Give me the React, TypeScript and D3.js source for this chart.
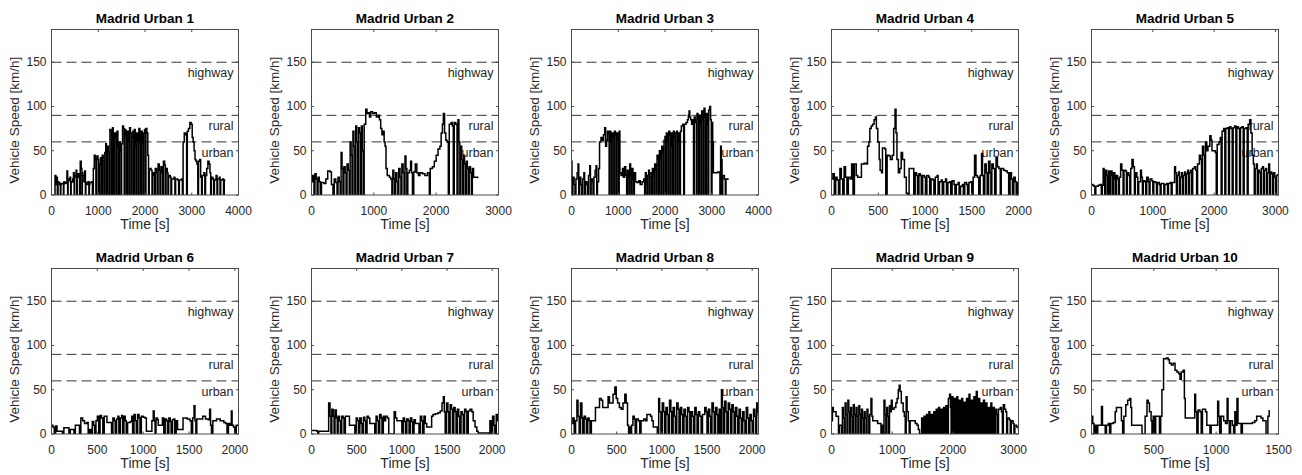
import React from 'react';
import * as d3 from 'd3';

type Pt = [number, number];

// ---------- data ----------
const titles = [
  'Madrid Urban 1', 'Madrid Urban 2', 'Madrid Urban 3', 'Madrid Urban 4', 'Madrid Urban 5',
  'Madrid Urban 6', 'Madrid Urban 7', 'Madrid Urban 8', 'Madrid Urban 9', 'Madrid Urban 10',
];
const xMaxes = [4000, 3000, 4000, 2000, 3050, 2040, 2070, 2070, 3080, 1500];
const xTicksK = [0, 1000, 2000, 3000, 4000];
const xTicks3K = [0, 1000, 2000, 3000];
const xTicks2K = [0, 500, 1000, 1500, 2000];
const xTicks15 = [0, 500, 1000, 1500];
const xTickSets = [xTicksK, xTicks3K, xTicksK, xTicks2K, xTicks3K, xTicks2K, xTicks2K, xTicks2K, xTicks3K, xTicks15];
const yTicks = [0, 50, 100, 150];
const yMax = 187;
const thresholds = [150, 90, 60];
const zoneLabels = ['highway', 'rural', 'urban'];

const madrid1: Pt[] = [
  [60,0],[75,22],[95,12],[110,20],[125,0],[140,15],[150,14],[175,12],[190,0],[200,12],[210,13],[240,13],[255,0],[265,15],[280,13],[310,14],[330,27],[345,0],[355,18],[370,16],[395,20],[410,0],[420,14],[430,15],[455,18],[470,25],[485,0],[495,20],[505,22],[525,28],[540,0],[550,20],[560,24],[585,20],[600,0],[615,38],[635,30],[650,0],[660,25],[670,22],[695,15],[710,27],[725,0],[735,14],[745,12],[780,15],[800,0],[810,12],[820,14],[860,15],[875,0],
  [895,30],[915,45],[935,40],[950,0],[970,44],[995,40],[1010,0],[1030,35],[1050,42],[1065,0],[1085,45],[1105,38],[1120,0],[1140,48],[1160,58],[1175,0],[1195,55],[1215,48],[1230,0],
  [1250,74],[1270,72],[1285,0],[1305,76],[1320,60],[1335,0],[1350,70],[1370,65],[1385,0],[1400,72],[1420,55],[1435,0],[1450,60],[1470,50],[1485,0],[1500,58],[1520,78],[1540,75],[1555,0],[1570,74],[1590,68],[1605,0],[1620,72],[1640,60],[1655,0],[1670,76],[1690,70],[1705,0],[1720,65],[1740,72],[1755,0],[1770,74],[1790,55],[1805,0],[1820,70],[1840,62],[1855,0],[1870,75],[1890,60],[1905,0],[1920,72],[1940,58],[1955,0],[1970,70],[1990,74],[2005,0],[2020,75],[2040,70],[2060,45],[2075,0],
  [2090,30],[2130,28],[2150,0],[2165,25],[2190,22],[2205,0],[2220,30],[2245,25],[2260,0],[2280,35],[2305,28],[2320,0],[2340,32],[2365,25],[2380,0],[2395,38],[2420,34],[2435,0],[2450,30],[2475,25],[2490,0],[2505,22],[2540,20],[2555,0],[2570,18],[2620,20],[2640,0],[2655,18],[2700,17],[2720,0],[2735,17],[2780,18],
  [2800,0],[2815,60],[2840,70],[2870,68],[2890,0],[2905,72],[2930,75],[2960,82],[2985,80],[3010,65],[3030,60],[3050,50],[3070,40],[3090,38],[3110,35],[3130,0],
  [3145,38],[3170,40],[3190,20],[3210,0],[3225,22],[3260,25],[3280,0],[3295,22],[3320,30],[3345,38],[3370,35],[3390,25],[3405,0],[3420,20],[3450,18],[3470,0],[3485,17],[3520,22],[3540,0],[3555,18],[3590,20],[3605,0],[3620,17],[3660,18],[3680,0],[3695,17],[3720,17],
];

const madrid2: Pt[] = [
  [0,15],[20,22],[40,0],[55,24],[75,18],[90,0],[105,20],[125,15],[140,0],[160,14],[200,13],[230,18],[260,27],[300,26],[320,12],[345,0],[365,18],[390,14],[410,0],[425,20],[445,15],[460,0],[475,48],[490,30],[505,0],[520,32],[540,25],[555,0],[570,35],[590,28],[605,0],[620,60],[635,45],[650,0],[665,72],[680,55],[695,0],[710,78],[725,60],[740,0],[755,76],[770,70],[785,0],[800,78],[815,50],[830,0],
  [845,80],[870,97],[890,92],[910,93],[930,88],[950,94],[980,92],[1010,93],[1040,88],[1070,90],[1090,85],[1110,75],[1130,68],[1150,72],[1165,60],[1180,55],[1195,30],[1215,22],[1250,20],[1270,18],[1290,0],[1305,28],[1320,18],[1335,0],[1350,25],[1370,15],[1385,0],[1400,30],[1420,20],[1435,0],[1450,35],[1470,25],[1485,0],[1500,44],[1515,30],[1530,0],[1545,25],[1570,28],[1590,38],[1605,25],[1620,0],[1640,26],[1665,35],[1690,25],[1715,22],[1740,25],[1780,24],[1820,22],[1860,25],[1890,0],
  [1905,30],[1940,32],[1970,38],[2000,45],[2030,52],[2060,55],[2080,70],[2100,80],[2115,92],[2135,70],[2155,62],[2175,60],[2195,0],[2210,80],[2240,82],[2260,78],[2275,0],[2290,82],[2315,80],[2335,0],[2350,85],[2365,60],[2380,0],[2395,55],[2410,40],[2425,0],[2440,45],[2455,35],[2470,0],[2485,38],[2500,30],[2515,0],[2530,32],[2550,25],[2565,0],[2580,30],[2600,20],[2640,20],[2665,19],
];

const madrid3: Pt[] = [
  [0,38],[10,0],[30,20],[55,12],[75,0],[95,18],[120,25],[140,35],[155,0],[175,20],[200,12],[220,0],[240,18],[265,25],[280,0],[300,15],[330,12],[345,0],[365,22],[390,33],[405,0],[420,18],[445,15],[460,0],[480,20],[505,28],[525,33],[540,0],[555,15],[580,30],
  [600,60],[630,65],[660,62],[685,68],[710,76],[730,55],[750,62],[770,72],[790,70],[805,0],[820,72],[840,60],[855,0],[870,70],[890,65],[905,0],[920,72],[940,68],[955,0],[970,70],[990,62],[1005,0],[1020,72],
  [1035,25],[1060,22],[1090,30],[1110,20],[1135,32],[1160,22],[1180,0],[1195,28],[1215,20],[1230,0],[1245,35],[1265,22],[1280,0],[1295,30],[1315,18],[1330,0],[1345,25],[1370,15],[1400,14],[1440,16],[1470,12],[1510,15],[1545,18],[1565,0],[1580,25],[1600,15],[1615,0],[1630,22],[1650,28],[1665,0],[1680,20],[1700,25],[1715,0],[1730,30],[1750,22],[1765,0],
  [1780,35],[1800,28],[1815,0],[1830,45],[1850,40],[1865,0],[1880,50],[1900,42],[1915,0],[1930,55],[1950,48],[1965,0],[1980,62],[2000,66],[2015,0],[2030,70],[2050,60],[2065,0],[2080,72],[2100,68],[2115,0],[2130,70],[2150,55],[2165,0],[2180,72],[2200,65],[2215,0],[2230,70],[2250,72],[2265,0],[2280,70],[2300,60],[2315,0],[2330,72],[2350,78],[2380,80],[2400,0],
  [2415,80],[2450,82],[2480,85],[2500,90],[2515,95],[2530,88],[2550,85],[2570,80],[2590,85],[2610,0],[2625,88],[2650,82],[2670,0],[2685,92],[2705,85],[2720,0],[2735,90],[2755,80],[2770,0],[2785,95],[2805,85],[2820,0],[2835,98],[2855,88],[2870,0],[2885,92],[2905,80],[2920,0],[2935,96],[2955,100],[2975,85],[2990,0],[3005,82],[3020,60],
  [3035,25],[3080,25],[3120,26],[3160,25],[3175,0],[3190,55],[3205,40],[3220,0],[3235,22],[3270,18],[3290,0],[3305,18],[3345,17],
];

const madrid4: Pt[] = [
  [0,18],[15,24],[30,0],[45,20],[60,17],[75,0],[90,30],[105,18],[120,0],[135,32],[150,20],[165,0],[180,20],[200,18],[215,35],[230,0],[245,35],[265,22],[280,20],[305,20],[320,35],[350,36],[370,35],
  [385,55],[400,60],[410,75],[425,78],[440,80],[455,85],[470,88],[480,75],[495,60],[510,40],[520,28],[535,25],[545,53],[570,52],[580,0],[595,45],[615,44],[630,40],[650,45],[665,75],[680,97],[690,70],[700,40],[715,25],[730,30],[745,48],[760,40],[780,20],[800,2],[815,0],[830,30],[870,30],[880,0],
  [895,25],[910,22],[920,0],[935,24],[950,22],[960,0],[975,22],[995,20],[1005,0],[1020,22],[1040,20],[1050,0],[1065,18],[1085,17],[1095,0],[1110,20],[1130,22],[1140,0],[1155,15],[1175,17],[1185,0],[1200,15],[1220,18],[1230,0],[1245,14],[1265,15],[1275,0],[1290,16],[1310,12],[1320,0],[1335,12],[1355,14],[1365,0],[1380,10],[1400,12],[1410,0],[1425,14],[1445,12],[1455,0],[1470,14],[1490,15],[1500,0],
  [1515,20],[1530,45],[1545,22],[1560,20],[1575,0],[1590,22],[1605,47],[1615,22],[1625,0],[1640,35],[1655,25],[1665,0],[1680,38],[1695,25],[1705,0],[1715,35],[1730,30],[1745,0],[1760,42],[1775,32],[1790,30],[1805,0],[1815,30],[1840,28],[1860,27],[1880,25],[1895,0],[1910,25],[1925,18],[1935,0],[1950,20],[1965,15],[1975,0],[1990,15],
];

const madrid5: Pt[] = [
  [0,12],[20,11],[40,10],[55,0],[70,10],[110,11],[140,12],[160,0],[175,11],[190,30],[205,20],[215,0],[230,28],[245,22],[260,0],[275,27],[290,20],[300,0],[315,27],[335,22],[345,0],[360,25],[380,18],[390,0],[405,22],[425,18],[440,0],[455,20],[475,35],[495,28],[515,0],[530,28],[555,27],[570,0],[585,25],[610,22],[625,0],[640,30],[660,40],[680,32],[700,0],[715,25],[740,20],[755,0],[770,15],[800,28],[815,20],[830,0],
  [845,16],[870,15],[885,0],[900,20],[925,15],[940,0],[955,18],[985,16],[1000,0],[1015,15],[1045,14],[1060,0],[1075,14],[1105,12],[1120,0],[1135,13],[1165,13],[1180,0],[1195,12],[1225,13],[1240,0],[1255,13],[1285,14],[1300,0],[1315,14],[1340,14],[1355,32],[1370,25],[1385,0],[1400,22],[1420,26],[1435,0],[1450,20],[1470,25],[1485,0],[1500,22],[1520,26],[1535,0],[1550,24],[1570,28],[1585,0],[1600,25],[1620,28],[1635,0],[1650,30],[1680,32],[1700,28],[1715,0],
  [1730,35],[1760,45],[1780,40],[1795,0],[1810,55],[1830,45],[1845,0],[1860,60],[1880,50],[1900,55],[1930,67],[1950,62],[1965,50],[2000,50],[2020,48],[2035,0],[2050,57],[2080,60],[2100,65],[2115,0],[2130,72],[2155,75],[2175,0],[2190,75],[2215,76],[2235,0],[2250,77],[2275,75],[2295,0],[2310,76],[2335,78],[2355,0],[2370,77],[2395,75],[2415,0],[2430,76],[2455,77],[2475,0],[2490,75],[2520,76],[2540,0],[2555,80],[2580,85],[2600,70],[2620,45],[2640,35],[2655,0],
  [2670,30],[2690,35],[2705,0],[2720,28],[2740,25],[2755,0],[2770,30],[2790,32],[2805,0],[2820,28],[2840,30],[2855,0],[2870,25],[2890,35],[2905,0],[2920,26],[2940,24],[2955,0],[2970,25],[2990,20],[3005,0],[3020,22],[3040,24],
];

const madrid6: Pt[] = [
  [0,10],[15,8],[30,0],[45,9],[60,3],[100,3],[120,0],[135,7],[170,7],[190,0],[205,5],[230,5],[245,0],[260,10],[290,10],[305,0],[320,18],[340,15],[360,12],[385,13],[400,0],[415,5],[430,0],[445,14],[460,10],[470,0],[485,15],[500,20],[515,0],[530,21],[545,18],[560,0],[575,20],[590,20],[605,13],[640,13],[655,0],[670,18],[685,15],[695,0],[710,17],[725,20],[735,0],[750,18],[765,21],[775,0],[790,20],[805,15],[815,0],[830,13],[860,14],[875,20],[885,0],[900,22],[915,15],[925,0],[940,22],[955,18],[965,0],[980,20],[1000,19],[1020,18],
  [1035,3],[1080,3],[1095,15],[1110,26],[1120,15],[1130,0],[1140,18],[1155,16],[1165,10],[1190,10],[1210,18],[1225,0],[1240,17],[1255,15],[1265,0],[1280,18],[1295,14],[1305,0],[1320,16],[1335,17],[1345,0],[1360,15],[1375,5],[1420,5],[1435,18],[1480,17],[1510,15],[1525,0],[1540,18],[1555,32],[1565,15],[1575,0],[1585,17],[1620,17],[1650,20],[1680,17],[1710,16],[1725,28],[1735,10],[1745,0],[1760,15],[1800,17],[1840,15],[1880,13],[1900,12],[1915,0],[1930,12],[1945,10],[1962,26],[1970,10],[1985,8],[2000,0],[2015,10],[2040,8],
];

const madrid7: Pt[] = [
  [0,4],[30,4],[60,3],[70,0],[80,3],[150,3],[175,3],[190,35],[205,20],[215,0],[225,28],[240,20],[250,0],[260,27],[275,18],[285,0],[295,20],[310,15],[320,0],[335,20],[350,18],[360,0],[375,20],[400,20],[420,10],[470,10],[480,0],[495,18],[510,15],[520,0],[535,18],[550,12],[560,0],[575,19],[590,15],[600,0],[615,20],[630,18],[645,12],[690,12],[700,0],[715,20],[730,15],[740,0],[755,22],[770,18],[780,0],[795,20],[810,15],[820,20],[840,18],[855,0],[905,0],
  [915,25],[930,18],[945,15],[980,15],[1000,0],[1015,18],[1030,14],[1040,0],[1055,17],[1070,15],[1080,0],[1095,18],[1110,14],[1120,0],[1135,16],[1150,12],[1170,12],[1190,0],[1205,20],[1220,15],[1230,0],[1245,20],[1260,12],[1275,8],[1310,8],[1330,20],[1345,22],[1370,23],[1400,24],[1425,26],[1445,35],[1460,42],[1470,25],[1480,0],[1495,35],[1510,25],[1520,0],[1535,33],[1550,28],[1560,0],[1575,30],[1590,25],[1600,0],[1615,28],[1630,20],[1640,0],[1655,25],[1670,22],[1680,0],[1695,28],[1710,25],[1720,0],[1735,26],[1755,28],[1775,25],[1790,15],[1810,8],[1830,3],[1845,1],[1950,1],[1960,0],[1975,15],[1990,0],[2005,20],[2020,10],[2030,0],[2045,22],[2060,15],[2070,22],
];

const madrid8: Pt[] = [
  [0,12],[15,18],[30,0],[45,15],[60,38],[72,20],[85,0],[100,35],[115,18],[125,0],[140,20],[155,17],[165,0],[180,18],[195,15],[205,0],[220,15],[250,15],[265,30],[290,30],[310,40],[330,38],[345,30],[370,30],[390,30],[405,42],[420,35],[440,35],[460,45],[480,53],[495,40],[510,35],[530,30],[550,28],[570,35],[590,45],[605,35],[620,10],[632,0],[645,8],[655,0],[665,10],[680,20],[695,17],[705,0],[720,17],[740,15],[755,0],[770,15],[800,17],[820,15],[835,22],[860,22],[875,20],[890,15],[905,8],[935,8],[950,0],
  [965,40],[975,25],[990,0],[1005,35],[1020,25],[1030,0],[1045,30],[1060,22],[1070,0],[1085,38],[1100,25],[1110,0],[1125,30],[1140,20],[1150,0],[1165,35],[1180,28],[1190,0],[1205,30],[1220,22],[1230,0],[1245,28],[1260,20],[1270,0],[1285,30],[1300,25],[1310,0],[1325,25],[1340,20],[1350,0],[1365,30],[1380,22],[1390,0],[1405,25],[1420,20],[1435,0],[1450,22],[1475,30],[1490,25],[1500,0],[1515,28],[1530,20],[1540,0],[1555,35],[1570,25],[1580,0],[1595,30],[1610,22],[1620,0],[1635,28],[1645,0],[1660,50],[1670,30],[1680,0],[1695,37],[1710,25],[1720,0],[1735,35],[1750,28],[1760,0],[1775,33],[1790,25],[1800,0],[1815,30],[1830,20],[1840,0],[1855,28],[1870,18],[1880,0],[1895,25],[1910,15],[1920,0],[1935,30],[1950,18],[1960,0],[1975,22],[1990,15],[2000,0],[2015,28],[2030,20],[2040,0],[2050,35],[2060,25],[2070,20],
];

const madrid9: Pt[] = [
  [0,15],[15,30],[30,25],[55,25],[75,20],[100,20],[115,0],[130,10],[150,10],[165,0],[180,30],[195,18],[210,0],[225,35],[240,22],[255,0],[270,38],[285,25],[300,0],[315,30],[330,20],[345,0],[360,33],[375,22],[390,0],[405,30],[420,20],[435,0],[450,32],[465,22],[480,0],[495,28],[510,18],[525,0],[540,25],[555,18],[570,0],[585,28],[600,20],[615,0],[630,22],[650,40],[665,20],[680,15],[720,15],[760,12],[800,12],[815,0],[830,10],[850,0],
  [865,38],[880,22],[895,0],[910,30],[925,20],[940,0],[955,32],[970,25],[985,38],[1000,28],[1030,30],[1060,35],[1080,40],[1100,50],[1115,55],[1130,48],[1150,35],[1180,25],[1200,20],[1215,0],[1230,42],[1245,25],[1265,15],[1280,0],[1295,15],[1340,15],[1380,12],[1410,10],[1430,5],[1450,0],[1470,0],
  [1485,18],[1500,10],[1510,0],[1525,20],[1540,12],[1550,0],[1565,22],[1580,15],[1590,0],[1605,25],[1620,18],[1630,0],[1645,22],[1660,15],[1670,0],[1685,25],[1700,20],[1710,0],[1725,28],[1740,18],[1750,0],[1765,30],[1780,22],[1790,0],[1805,28],[1820,20],[1830,0],[1845,30],[1860,22],[1870,0],[1885,32],[1900,25],[1910,0],[1925,40],[1945,45],[1960,30],[1970,0],[1985,42],[2000,35],[2010,0],[2025,40],[2040,30],[2050,0],[2065,42],[2080,35],[2090,0],[2105,38],[2120,30],[2130,0],[2145,40],[2160,32],[2170,0],[2185,36],[2200,28],[2210,0],[2225,40],[2240,30],[2250,0],[2265,45],[2280,35],[2290,0],[2305,38],[2320,28],[2330,0],[2345,42],[2360,35],[2370,0],[2385,48],[2400,30],[2410,0],
  [2425,40],[2440,30],[2450,0],[2465,35],[2480,28],[2490,0],[2505,38],[2520,25],[2530,0],[2545,35],[2560,28],[2570,0],[2585,30],[2600,25],[2610,0],[2625,35],[2640,22],[2650,0],[2665,30],[2680,25],[2690,0],[2705,28],[2720,22],[2735,0],[2750,28],[2780,30],[2800,25],[2815,0],[2830,33],[2850,28],[2870,25],[2885,0],[2900,18],[2930,16],[2945,0],[2960,15],[2990,12],[3005,0],[3020,10],[3050,8],[3080,5],
];

const madrid10: Pt[] = [
  [0,20],[10,12],[20,0],[30,10],[40,0],[50,10],[70,10],[80,31],[88,10],[100,10],[110,0],[120,10],[135,12],[145,0],[155,12],[175,13],[190,25],[200,30],[230,30],[240,15],[250,0],[260,20],[275,33],[290,38],[305,40],[315,30],[322,10],[360,10],[395,10],[405,0],[420,0],[430,20],[445,38],[455,35],[465,25],[478,15],[485,0],[495,20],[505,0],[515,20],[535,20],[545,0],[555,20],
  [565,50],[578,85],[600,86],[615,84],[625,80],[640,78],[655,80],[670,72],[685,70],[700,68],[710,62],[720,70],[735,72],[745,40],[752,18],[790,18],[820,18],[828,45],[835,25],[845,0],[855,27],[870,25],[880,0],[890,28],[915,25],[925,10],[940,10],[950,0],[960,10],[1000,10],[1012,37],[1020,20],[1028,0],[1040,20],[1060,15],[1075,12],[1088,40],[1095,15],[1105,0],[1115,15],[1130,10],[1140,0],[1150,25],[1160,10],[1167,40],[1175,12],[1190,12],[1200,0],[1210,12],[1250,12],[1290,13],[1310,15],[1325,20],[1345,20],[1360,18],[1375,15],[1395,15],[1400,0],[1415,20],[1425,27],
];

const series: Pt[][] = [madrid1, madrid2, madrid3, madrid4, madrid5, madrid6, madrid7, madrid8, madrid9, madrid10];

// ---------- layout ----------
const W = 1302;
const H = 475;
const colLefts = [51.5, 311.5, 571.5, 831.5, 1091.5];
const rowTops = [29.5, 268.5];
const plotW = 187;
const plotH = 165.5;
const textColor = '#262626';
const axisColor = '#4a4a4a';
const font = '"Liberation Sans", Arial, Helvetica, sans-serif';

function Panel({ idx }: { idx: number }) {
  const col = idx % 5;
  const row = Math.floor(idx / 5);
  const left = colLefts[col];
  const top = rowTops[row];
  const x = d3.scaleLinear().domain([0, xMaxes[idx]]).range([left, left + plotW]);
  const y = d3.scaleLinear().domain([0, yMax]).range([top + plotH, top]);
  const line = d3.line<Pt>().x((d) => x(d[0])).y((d) => y(d[1])).curve(d3.curveStepAfter);
  const bottom = top + plotH;
  const clipId = `clip-${idx}`;
  const tickLen = 2.5;
  return (
    <g>
      <defs>
        <clipPath id={clipId}>
          <rect x={left} y={top} width={plotW} height={plotH} />
        </clipPath>
      </defs>
      <rect x={left} y={top} width={plotW} height={plotH} fill="#fff" />
      {thresholds.map((v, i) => (
        <g key={i}>
          <line x1={left} x2={left + plotW} y1={y(v)} y2={y(v)} stroke="#333" strokeWidth={1} strokeDasharray="10,5" />
          <text x={left + plotW - 5} y={y(v) + 15} fontSize={12.5} fill={textColor} textAnchor="end" fontFamily={font}>{zoneLabels[i]}</text>
        </g>
      ))}
      <path d={line(series[idx]) || ''} fill="none" stroke="#000" strokeWidth={1.5} strokeLinejoin="miter" clipPath={`url(#${clipId})`} />
      <rect x={left} y={top} width={plotW} height={plotH} fill="none" stroke={axisColor} strokeWidth={1} />
      {xTickSets[idx].map((t) => (
        <g key={`x${t}`}>
          <line x1={x(t)} x2={x(t)} y1={bottom} y2={bottom - tickLen} stroke={axisColor} />
          <line x1={x(t)} x2={x(t)} y1={top} y2={top + tickLen} stroke={axisColor} />
          <text x={x(t)} y={bottom + 19.5} fontSize={12} fill={textColor} textAnchor="middle" fontFamily={font}>{t}</text>
        </g>
      ))}
      {yTicks.map((t) => (
        <g key={`y${t}`}>
          <line x1={left} x2={left + tickLen} y1={y(t)} y2={y(t)} stroke={axisColor} />
          <line x1={left + plotW} x2={left + plotW - tickLen} y1={y(t)} y2={y(t)} stroke={axisColor} />
          <text x={left - 5} y={y(t) + 4} fontSize={12} fill={textColor} textAnchor="end" fontFamily={font}>{t}</text>
        </g>
      ))}
      <text x={left + plotW / 2} y={top - 6.5} fontSize={13.5} fontWeight="bold" fill="#000" textAnchor="middle" fontFamily={font}>{titles[idx]}</text>
      <text x={left + plotW / 2} y={bottom + 34} fontSize={14} fill={textColor} textAnchor="middle" fontFamily={font}>Time [s]</text>
      <text transform={`translate(${left - 33},${top + plotH / 2 + 8}) rotate(-90)`} fontSize={13.5} fill={textColor} textAnchor="middle" fontFamily={font}>Vehicle Speed [km/h]</text>
    </g>
  );
}

export default function App() {
  return (
    <svg width={W} height={H} viewBox={`0 0 ${W} ${H}`} style={{ position: 'absolute', left: 0, top: 0, background: '#fff' }}>
      <rect x={0} y={0} width={W} height={H} fill="#fff" />
      {titles.map((_, i) => (
        <Panel key={i} idx={i} />
      ))}
    </svg>
  );
}
